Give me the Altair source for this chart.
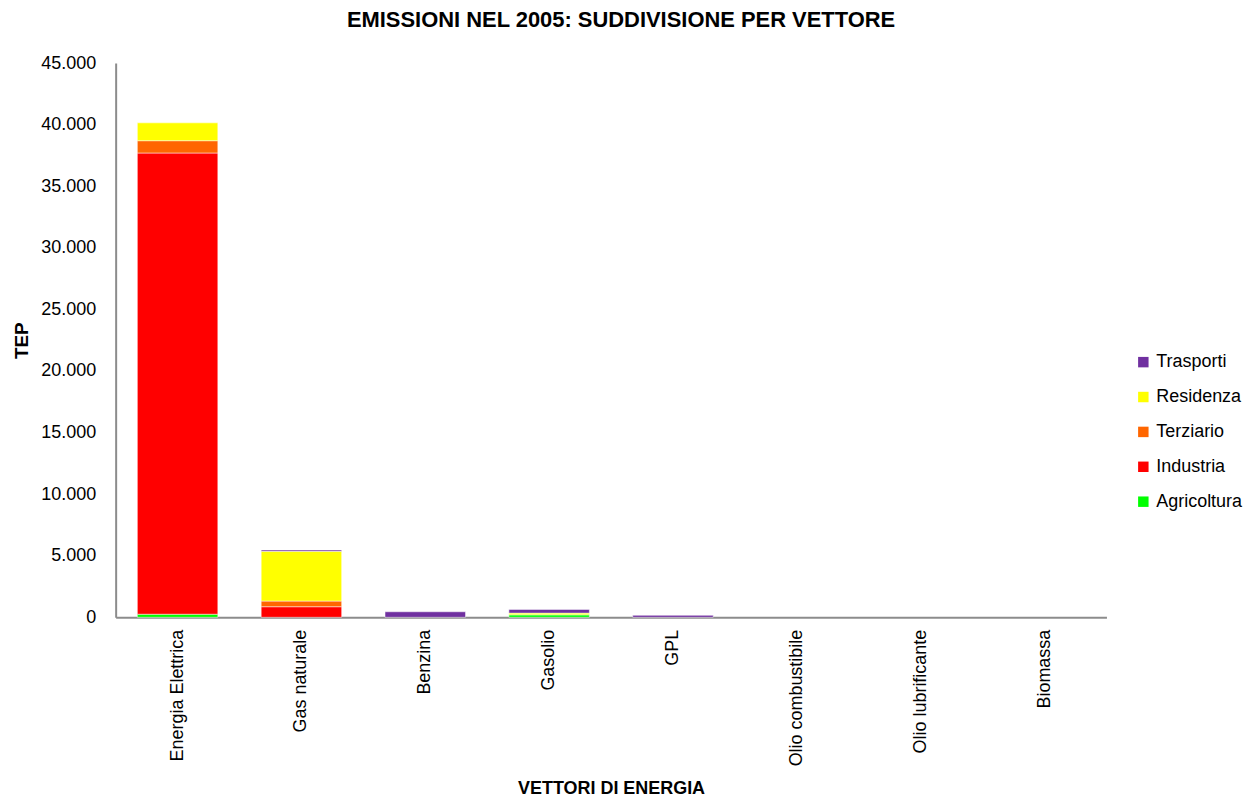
import altair as alt
import pandas as pd

categories = ["Energia Elettrica", "Gas naturale", "Benzina", "Gasolio", "GPL",
              "Olio combustibile", "Olio lubrificante", "Biomassa"]
series = ["Agricoltura", "Industria", "Terziario", "Residenza", "Trasporti"]
colors = ["#00FF00", "#FF0000", "#FF6600", "#FFFF00", "#7030A0"]

agricoltura = [250, 0, 0, 200, 0, 0, 0, 0]
industria = [37450, 860, 0, 0, 0, 0, 0, 0]
terziario = [1000, 460, 0, 0, 0, 0, 0, 0]
residenza = [1450, 4040, 0, 140, 0, 0, 0, 0]
trasporti = [0, 110, 450, 300, 160, 0, 0, 0]

values = [agricoltura, industria, terziario, residenza, trasporti]
rows = []
for si, (s, vals) in enumerate(zip(series, values)):
    for c, v in zip(categories, vals):
        rows.append({"vettore": c, "settore": s, "tep": v, "ordine": si})
df = pd.DataFrame(rows)

base_font = "Liberation Sans, Arial, sans-serif"
narrow = "Liberation Sans Narrow, Arial Narrow, Liberation Sans, sans-serif"

chart = alt.Chart(df).transform_filter("datum.tep > 0").mark_bar(
    stroke="#ffffff", strokeWidth=1, strokeOpacity=0.5
).encode(
    x=alt.X("vettore:N", sort=categories,
            scale=alt.Scale(domain=categories, paddingInner=0.35, paddingOuter=0.175),
            axis=alt.Axis(title="VETTORI DI ENERGIA", labelAngle=-90, ticks=False,
                          labelPadding=12, labelFontSize=18, labelFont=base_font,
                          labelColor="#000000", domainColor="#8c8c8c", domainWidth=2,
                          titleFont=narrow, titleFontSize=18, titleFontWeight="bold",
                          titleColor="#000000", titleY=172, titleBaseline="middle")),
    y=alt.Y("tep:Q", stack="zero",
            scale=alt.Scale(domain=[0, 45000], nice=False),
            axis=alt.Axis(title="TEP", values=list(range(0, 45001, 5000)), ticks=False,
                          grid=False, labelPadding=20, labelFontSize=18, labelFont=base_font,
                          labelColor="#000000", domainColor="#8c8c8c", domainWidth=2,
                          labelExpr="replace(format(datum.value, ','), regexp(',', 'g'), '.')",
                          titleFont=narrow, titleFontSize=19, titleFontWeight="bold",
                          titleColor="#000000", titleAngle=270, titleX=-94, titleY=278,
                          titleAlign="center", titleBaseline="middle")),
    color=alt.Color("settore:N", sort=series[::-1],
                    scale=alt.Scale(domain=series[::-1], range=colors[::-1]),
                    legend=alt.Legend(title=None, orient="none", legendX=1022, legendY=291,
                                      symbolType="square", symbolSize=110, symbolStrokeWidth=0,
                                      labelFontSize=18, labelFont=base_font, labelColor="#000000",
                                      rowPadding=17, labelOffset=4)),
    order=alt.Order("ordine:Q", sort="ascending"),
).properties(
    width=994, height=556,
    title=alt.TitleParams("EMISSIONI NEL 2005: SUDDIVISIONE PER VETTORE", font=narrow,
                          fontSize=22, fontWeight="bold", color="#000000",
                          anchor="middle", dx=10, offset=22),
    autosize=alt.AutoSizeParams(type="none"),
    padding={"left": 108, "top": 54, "right": 140, "bottom": 181},
).configure_view(stroke=None)

chart.save("out.html", embed_options={"renderer": "svg", "actions": False})
